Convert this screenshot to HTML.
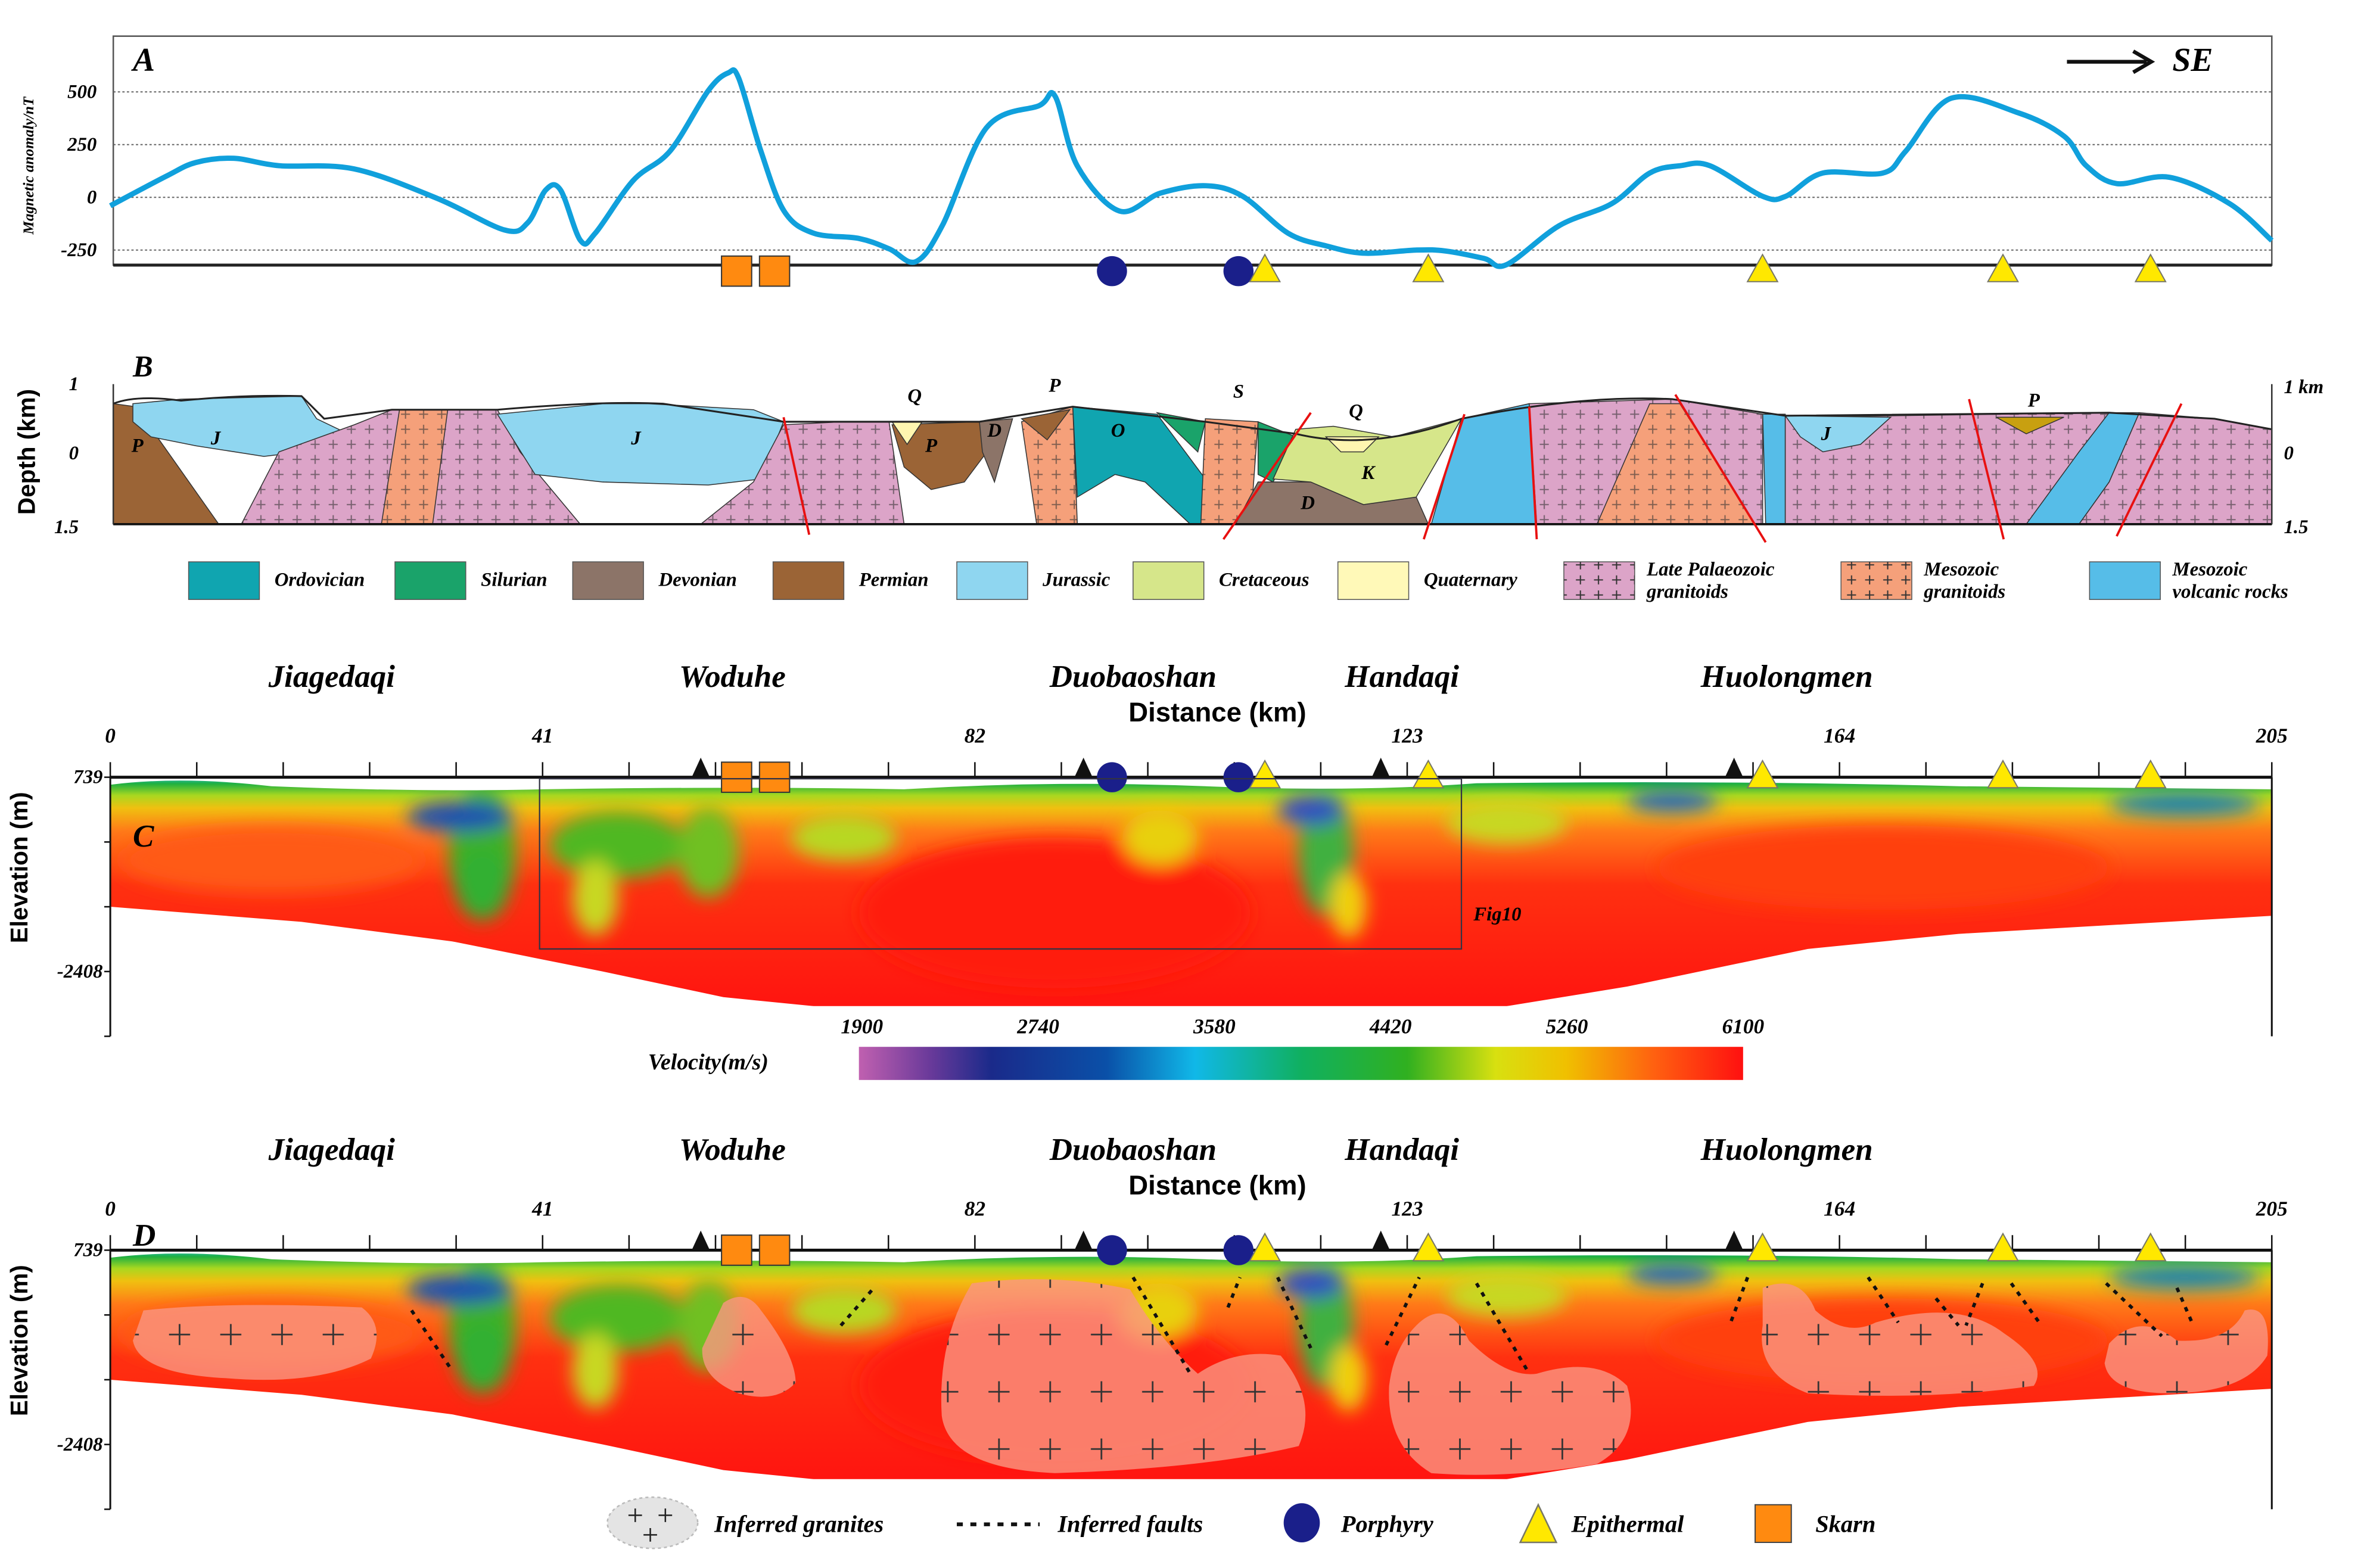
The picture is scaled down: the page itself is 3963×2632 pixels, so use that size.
<!DOCTYPE html>
<html><head><meta charset="utf-8"><style>
html,body{margin:0;padding:0;background:#fff;}
svg{display:block;}
text{font-family:"Liberation Serif",serif;font-style:italic;font-weight:bold;}
.s{font-family:"Liberation Sans",sans-serif;font-style:normal;}
</style></head><body>
<svg id="fig" width="3963" height="2632" viewBox="0 0 1567 1041" xmlns="http://www.w3.org/2000/svg">
<defs>
<linearGradient id="velgrad" x1="0" y1="0" x2="1" y2="0">
<stop offset="0" stop-color="#c060b0"/><stop offset="0.08" stop-color="#6a3a9a"/><stop offset="0.15" stop-color="#1a2a8a"/><stop offset="0.28" stop-color="#0a50a8"/><stop offset="0.38" stop-color="#10b8e8"/><stop offset="0.5" stop-color="#10b060"/><stop offset="0.62" stop-color="#30b020"/><stop offset="0.72" stop-color="#d8e010"/><stop offset="0.8" stop-color="#f0c000"/><stop offset="0.9" stop-color="#ff6010"/><stop offset="1" stop-color="#ff1010"/></linearGradient>
<linearGradient id="secgrad" x1="0" y1="0" x2="0" y2="1">
<stop offset="0" stop-color="#2050b0"/><stop offset="0.025" stop-color="#20b8d0"/><stop offset="0.055" stop-color="#20b040"/><stop offset="0.1" stop-color="#a8d820"/><stop offset="0.15" stop-color="#f0c010"/><stop offset="0.24" stop-color="#ff7a18"/><stop offset="0.45" stop-color="#ff3010"/><stop offset="1" stop-color="#ff1010"/></linearGradient>
<filter id="blur" x="-50%" y="-50%" width="200%" height="200%"><feGaussianBlur stdDeviation="6"/></filter>
<pattern id="plus" width="12" height="10" patternUnits="userSpaceOnUse"><path d="M2 5h6M5 2v6" stroke="#333" stroke-width="0.8"/></pattern>
<pattern id="bigplus" width="34" height="38" patternUnits="userSpaceOnUse"><path d="M10 12h14M17 5v14" stroke="#333" stroke-width="1.1"/></pattern>
</defs>
<g id="panelA"></g>
<g id="panelB"></g>
<g id="panelC"></g>
<g id="panelD"></g>
</svg>
<script>
const magKm=[0,5.3,8.1,11.7,16,23.1,31,37.4,39.6,41.3,42.7,44.6,46,49.6,53.1,56.7,58.6,59.6,61.7,63.9,66.7,71,73.9,76.4,78.9,83.1,88.1,89.6,91.7,95.7,99.6,103.9,107.4,111.7,115.3,118.9,123.9,126.7,130.3,132.4,137.4,142.4,146,148.9,151.7,156.7,158.9,162.4,168.1,170.3,174.6,181,185.3,187.4,190.3,195.3,201,205];
const magVal=[-40,100,165,185,150,135,-5,-155,-120,35,35,-205,-170,80,220,505,590,565,220,-65,-170,-195,-245,-305,-135,330,435,480,150,-65,20,55,5,-170,-230,-265,-250,-255,-290,-320,-135,-30,115,150,150,5,5,115,115,220,470,400,290,150,65,95,-30,-205];
const magTicks=[500,250,0,-250];
const distTicks=[0,41,82,123,164,205];
const velTicks=[1900,2740,3580,4420,5260,6100];
const towns=["Jiagedaqi","Woduhe","Duobaoshan","Handaqi","Huolongmen"];
const townKm=[21,59,97,122.5,159];
const skarnKm=[59.4,63];
const porphyryKm=[95,107];
const epiKm=[109.5,125,156.7,179.5,193.5];
const blackTriKm=[56,92.3,120.5,154];

const NS="http://www.w3.org/2000/svg";
const X=d=>73+d*7.0;
const yMag=v=>131-v*0.14;
function el(p,tag,a,txt){const e=document.createElementNS(NS,tag);for(const k in a)e.setAttribute(k,a[k]);if(txt!==undefined)e.textContent=txt;p.appendChild(e);return e;}

// ---------- Panel A
const A=document.getElementById('panelA');
let e;
e=el(A,'rect',{x:75,y:24,width:1433,height:152,fill:'none',stroke:'#555','stroke-width':1});

magTicks.forEach(v=>{
 e=el(A,'line',{x1:75,x2:1508,y1:yMag(v),y2:yMag(v),stroke:'#666','stroke-dasharray':'1.5 1.5','stroke-width':0.8});
 
 e=el(A,'text',{x:64,y:yMag(v)+4,'font-size':13,'text-anchor':'end'},String(v));
 
});
e=el(A,'line',{x1:75,x2:1508,y1:176,y2:176,stroke:'#222','stroke-width':2});

e=el(A,'text',{x:22,y:110,'font-size':10,'text-anchor':'middle',transform:'rotate(-90 22 110)'},'Magnetic anomaly/nT');

e=el(A,'text',{x:88,y:47,'font-size':22},'A');

e=el(A,'text',{x:1442,y:47,'font-size':22},'SE');

e=el(A,'path',{d:'M1372 41H1425M1416 34L1428 41L1416 48',stroke:'#111','stroke-width':2.5,fill:'none'});

let pts=magKm.map((k,i)=>[X(k),yMag(magVal[i])]);
let dA='M'+pts[0][0]+' '+pts[0][1];
for(let i=1;i<pts.length;i++){const p0=pts[Math.max(0,i-2)],p1=pts[i-1],p2=pts[i],p3=pts[Math.min(pts.length-1,i+1)];
 dA+=` C${p1[0]+(p2[0]-p0[0])/6} ${p1[1]+(p2[1]-p0[1])/6} ${p2[0]-(p3[0]-p1[0])/6} ${p2[1]-(p3[1]-p1[1])/6} ${p2[0]} ${p2[1]}`;}
e=el(A,'path',{d:dA,fill:'none',stroke:'#10a0dc','stroke-width':3.5});


function markers(g,y,withBlack){
 if(withBlack) blackTriKm.forEach(k=>{e=el(g,'path',{d:`M${X(k)-6} ${y} L${X(k)} ${y-13} L${X(k)+6} ${y}Z`,fill:'#111'});
  });
 skarnKm.forEach(k=>{e=el(g,'rect',{x:X(k)-10,y:y-10,width:20,height:20,fill:'#ff8a10',stroke:'#333','stroke-width':0.8});
  });
 porphyryKm.forEach(k=>{e=el(g,'ellipse',{cx:X(k),cy:y,rx:10,ry:10,fill:'#1a1f8a'});
  });
 epiKm.forEach(k=>{e=el(g,'path',{d:`M${X(k)-10} ${y+7} L${X(k)} ${y-11} L${X(k)+10} ${y+7}Z`,fill:'#ffe800',stroke:'#776','stroke-width':0.8});
  });
}
markers(A,180,false);

// ---------- Panel B
const B=document.getElementById('panelB');
const geo=[
['#9b6436','75,268 90,270 145,348 75,348'],
['#8fd6f0','88,268 120,265 200,263 210,278 235,290 200,300 175,303 130,296 100,290 88,280'],
['#dca4c8','235,282 260,272 330,272 345,300 385,348 160,348 185,300'],
['#f5a07a','265,272 297,272 287,348 253,348'],
['#8fd6f0','330,275 400,268 430,268 500,272 520,280 505,318 470,322 400,320 355,315'],
['#dca4c8','520,282 560,280 590,280 600,348 465,348 500,320'],
['#9b6436','592,282 650,280 655,300 640,320 618,325 600,310'],
['#fff6b0','592,280 612,280 602,295'],
['#8c7468','650,280 672,278 660,320 652,300'],
['#f5a07a','678,280 712,270 715,348 688,348'],
['#9b6436','678,278 710,272 695,292'],
['#10a5b0','712,270 768,275 800,318 800,348 790,348 760,320 740,315 715,330'],
['#1aa36a','768,274 800,280 795,300'],
['#f5a07a','800,278 835,280 830,348 797,348'],
['#1aa36a','835,280 860,290 845,320 835,315'],
['#8c7468','835,320 870,320 905,335 940,330 948,348 820,348'],
['#d6e68a','860,285 885,283 925,290 970,278 940,330 905,335 870,320 845,318'],
['#fff6b0','880,290 915,290 905,300 890,300'],
['#56bde8','970,278 1015,268 1020,348 950,348'],
['#dca4c8','1015,268 1110,265 1170,275 1170,348 1020,348'],
['#f5a07a','1095,268 1115,268 1165,348 1060,348'],
['#56bde8','1170,275 1185,275 1185,348 1172,348'],
['#dca4c8','1185,277 1400,274 1350,348 1185,348'],
['#8fd6f0','1185,276 1255,277 1235,295 1210,300 1195,290'],
['#c8a010','1325,277 1370,277 1345,288'],
['#dca4c8','1420,274 1470,278 1508,285 1508,348 1380,348 1400,320'],
['#56bde8','1400,274 1420,274 1400,320 1380,348 1345,348 1380,300']
];
geo.forEach((g,i)=>{e=el(B,'polygon',{points:g[1],fill:g[0],stroke:'#333','stroke-width':0.6});
 
 if(g[0]=='#dca4c8'||g[0]=='#f5a07a'){e=el(B,'polygon',{points:g[1],fill:'url(#plus)',opacity:0.6});
  }});
e=el(B,'path',{d:'M75 268 Q90 262 120 266 Q160 262 200 263 L215 278 L260 272 L330 272 Q400 266 440 268 L520 280 L590 280 L650 280 L712 270 L800 280 L860 288 Q910 300 970 278 Q1050 262 1110 265 L1185 276 L1400 274 L1470 278 L1508 285',fill:'none',stroke:'#222','stroke-width':1.2});

e=el(B,'line',{x1:75,x2:1508,y1:348,y2:348,stroke:'#111','stroke-width':1.5});

[[75,255,75,348],[1508,255,1508,348]].forEach(l=>{e=el(B,'line',{x1:l[0],y1:l[1],x2:l[2],y2:l[3],stroke:'#333','stroke-width':1});
 });
[['1',255],['0',301],['1.5',350]].forEach(t=>{e=el(B,'text',{x:52,y:t[1]+4,'font-size':13,'text-anchor':'end'},t[0]);
 });
[['1 km',257],['0',301],['1.5',350]].forEach(t=>{e=el(B,'text',{x:1516,y:t[1]+4,'font-size':13},t[0]);
 });
e=el(B,'text',{x:23,y:300,'font-size':16,'text-anchor':'middle',transform:'rotate(-90 23 300)',class:'s','font-weight':'bold'},'Depth (km)');

e=el(B,'text',{x:88,y:250,'font-size':20},'B');

[['P',91,300],['J',143,295],['J',422,295],['Q',607,267],['P',618,300],['D',660,290],['P',700,260],['O',742,290],['S',822,264],['Q',900,277],['K',908,318],['D',868,338],['J',1212,292],['P',1350,270]].forEach(t=>{
 e=el(B,'text',{x:t[1],y:t[2],'font-size':13,'font-weight':'normal','text-anchor':'middle'},t[0]);
 });
[[520,277,537,355],[870,274,812,358],[972,275,945,358],[1015,270,1020,358],[1112,262,1172,360],[1307,265,1330,358],[1448,268,1405,356]].forEach(f=>{
 e=el(B,'line',{x1:f[0],y1:f[1],x2:f[2],y2:f[3],stroke:'#e81010','stroke-width':1.5});
 });
const leg=[['#10a5b0',125,'Ordovician'],['#1aa36a',262,'Silurian'],['#8c7468',380,'Devonian'],['#9b6436',513,'Permian'],['#8fd6f0',635,'Jurassic'],['#d6e68a',752,'Cretaceous'],['#fff9b8',888,'Quaternary'],['#dca4c8',1038,'Late Palaeozoic|granitoids'],['#f5a07a',1222,'Mesozoic|granitoids'],['#56bde8',1387,'Mesozoic|volcanic rocks']];
leg.forEach(l=>{const g=el(B,'g',{});
 el(g,'rect',{x:l[1],y:373,width:47,height:25,fill:l[0],stroke:'#555','stroke-width':0.6});
 if(l[0]=='#dca4c8'||l[0]=='#f5a07a')el(g,'rect',{x:l[1],y:373,width:47,height:25,fill:'url(#plus)'});
 const parts=l[2].split('|');
 if(parts.length==1)el(g,'text',{x:l[1]+57,y:389,'font-size':13},parts[0]);
 else{el(g,'text',{x:l[1]+55,y:382,'font-size':13},parts[0]);el(g,'text',{x:l[1]+55,y:397,'font-size':13},parts[1]);}
});

// ---------- Sections C and D
function section(g,off,letter){
 towns.forEach((t,i)=>{e=el(g,'text',{x:X(townKm[i]),y:456+off,'font-size':21,'text-anchor':'middle'},t);
  });
 e=el(g,'text',{x:808,y:479+off,'font-size':18,'text-anchor':'middle',class:'s','font-weight':'bold'},'Distance (km)');
 
 distTicks.forEach(d=>{e=el(g,'text',{x:X(d),y:493+off,'font-size':14,'text-anchor':'middle'},String(d));
  });
 const ay=516+off;
 const body=`M73 ${ay+5} Q120 ${ay-1} 180 ${ay+6} Q280 ${ay+10} 360 ${ay+8} Q500 ${ay+6} 600 ${ay+8} Q700 ${ay+2} 800 ${ay+6} Q900 ${ay+10} 980 ${ay+4} Q1150 ${ay+2} 1300 ${ay+6} L1508 ${ay+8} L1508 ${ay+92} L1300 ${ay+104} L1200 ${ay+114} L1080 ${ay+139} L1000 ${ay+152} L540 ${ay+152} L480 ${ay+146} L400 ${ay+129} L300 ${ay+109} L200 ${ay+96} L73 ${ay+86} Z`;
 const cid='clip'+letter;
 const cp=el(g,'clipPath',{id:cid});el(cp,'path',{d:body});
 const sg=el(g,'g',{'clip-path':`url(#${cid})`});
 
 el(sg,'rect',{x:73,y:ay-5,width:1436,height:170,fill:'url(#secgrad)'});
 const bl=el(sg,'g',{filter:'url(#blur)'});
 [[180,ay+55,100,22,'#ff5a15'],[1250,ay+60,150,28,'#ff4010'],[700,ay+90,130,50,'#ff1a10'],
  [320,ay+50,22,45,'#40b020'],[320,ay+70,18,25,'#30b030'],[305,ay+26,35,10,'#1a50b0'],
  [410,ay+45,45,22,'#50b820'],[470,ay+50,20,30,'#70c020'],[560,ay+40,35,15,'#b8d820'],[395,ay+80,15,25,'#c8d820'],
  [880,ay+50,18,42,'#40b040'],[870,ay+22,22,10,'#3050c0'],[895,ay+85,12,22,'#f0d010'],
  [1450,ay+18,50,8,'#1a80b0'],[1110,ay+16,30,7,'#2060c0'],[770,ay+40,25,18,'#e8d010'],[1000,ay+30,40,14,'#c8d820']].forEach(b=>el(bl,'ellipse',{cx:b[0],cy:b[1],rx:b[2],ry:b[3],fill:b[4]}));
 e=el(g,'line',{x1:73,x2:1508,y1:ay,y2:ay,stroke:'#111','stroke-width':2});
 
 for(let i=0;i<=25;i++){const x=73+i*57.4;e=el(g,'line',{x1:x,x2:x,y1:ay,y2:ay-10,stroke:'#111','stroke-width':1});
  }
 e=el(g,'line',{x1:73,x2:73,y1:ay,y2:ay+172,stroke:'#111','stroke-width':1.2});
 
 e=el(g,'line',{x1:1508,x2:1508,y1:ay,y2:ay+172,stroke:'#111','stroke-width':1.2});
 
 [0,43,86,129,172].forEach(t=>{e=el(g,'line',{x1:69,x2:73,y1:ay+t,y2:ay+t,stroke:'#111'});
  });
 e=el(g,'text',{x:68,y:ay+4,'font-size':13,'text-anchor':'end'},'739');
 
 e=el(g,'text',{x:68,y:ay+133,'font-size':13,'text-anchor':'end'},'-2408');
 
 e=el(g,'text',{x:18,y:ay+60,'font-size':16,'text-anchor':'middle',transform:`rotate(-90 18 ${ay+60})`,class:'s','font-weight':'bold'},'Elevation (m)');
 
 e=el(g,'text',{x:88,y:letter=='C'?ay+46:ay-3,'font-size':21},letter);
 
 markers(g,ay,true);
}
const C=document.getElementById('panelC');
section(C,0,'C');
e=el(C,'rect',{x:358,y:517,width:612,height:113,fill:'none',stroke:'#334','stroke-width':0.9});

e=el(C,'text',{x:978,y:611,'font-size':13,'font-weight':'normal'},'Fig10');

e=el(C,'rect',{x:570,y:695,width:587,height:22,fill:'url(#velgrad)'});

velTicks.forEach((v,i)=>{e=el(C,'text',{x:572+i*(1157-572)/5,y:686,'font-size':14,'text-anchor':'middle'},String(v));
 });
e=el(C,'text',{x:470,y:710,'font-size':15,'text-anchor':'middle'},'Velocity(m/s)');


const D=document.getElementById('panelD');
section(D,314,'D');
const granites=[
 'M95 870 Q150 864 240 868 Q256 880 246 902 Q210 920 150 915 Q92 912 88 890 Z',
 'M480 865 Q495 855 505 870 Q528 900 528 918 Q515 932 490 925 Q465 915 466 895 Z',
 'M645 852 Q700 845 750 856 Q770 890 795 912 Q820 895 850 900 Q875 930 862 960 Q800 975 700 978 Q630 975 625 940 Q622 890 645 852 Z',
 'M940 880 Q960 860 975 890 Q1000 915 1020 912 Q1060 900 1080 920 Q1090 955 1060 972 Q1000 982 950 978 Q920 960 922 920 Q925 895 940 880 Z',
 'M1170 855 Q1195 845 1205 870 Q1225 888 1245 878 Q1300 862 1330 885 Q1360 905 1350 920 Q1280 930 1200 925 Q1165 912 1170 880 Z',
 'M1400 892 Q1420 870 1445 890 Q1480 892 1490 870 Q1508 865 1505 900 Q1490 925 1440 925 Q1400 925 1397 905 Z'];
granites.forEach(p=>{e=el(D,'path',{d:p,fill:'rgba(250,150,130,0.8)'});
 
 e=el(D,'path',{d:p,fill:'url(#bigplus)'});
 });
[[273,870,300,910],[558,880,580,855],[752,848,790,912],[815,868,823,848],[848,848,870,895],[920,893,942,848],[980,852,1015,912],[1160,848,1148,880],[1240,848,1260,878],[1285,862,1300,880],[1316,852,1305,880],[1335,852,1355,880],[1398,852,1435,887],[1445,855,1455,878]].forEach(f=>{
 e=el(D,'line',{x1:f[0],y1:f[1],x2:f[2],y2:f[3],stroke:'#111','stroke-width':2.2,'stroke-dasharray':'3 4'});
 });
const lg=el(D,'g',{});
e=el(lg,'ellipse',{cx:433,cy:1011,rx:30,ry:17,fill:'#e4e4e4',stroke:'#bbb','stroke-dasharray':'2 2'});

el(lg,'path',{d:'M417 1006h9M421.5 1001.5v9M437 1006h9M441.5 1001.5v9M427 1019h9M431.5 1014.5v9',stroke:'#222','stroke-width':1});
el(lg,'text',{x:474,y:1017,'font-size':16},'Inferred granites');
el(lg,'line',{x1:635,x2:690,y1:1012,y2:1012,stroke:'#111','stroke-width':2.5,'stroke-dasharray':'4 5'});
el(lg,'text',{x:702,y:1017,'font-size':16},'Inferred faults');
el(lg,'ellipse',{cx:864,cy:1011,rx:12,ry:13,fill:'#1a1f8a'});
el(lg,'text',{x:890,y:1017,'font-size':16},'Porphyry');
el(lg,'path',{d:'M1009 1024 L1021 999 L1033 1024Z',fill:'#ffe800',stroke:'#776'});
el(lg,'text',{x:1043,y:1017,'font-size':16},'Epithermal');
el(lg,'rect',{x:1165,y:999,width:24,height:25,fill:'#ff8a10',stroke:'#444','stroke-width':0.8});
el(lg,'text',{x:1205,y:1017,'font-size':16},'Skarn');
</script>
</body></html>
